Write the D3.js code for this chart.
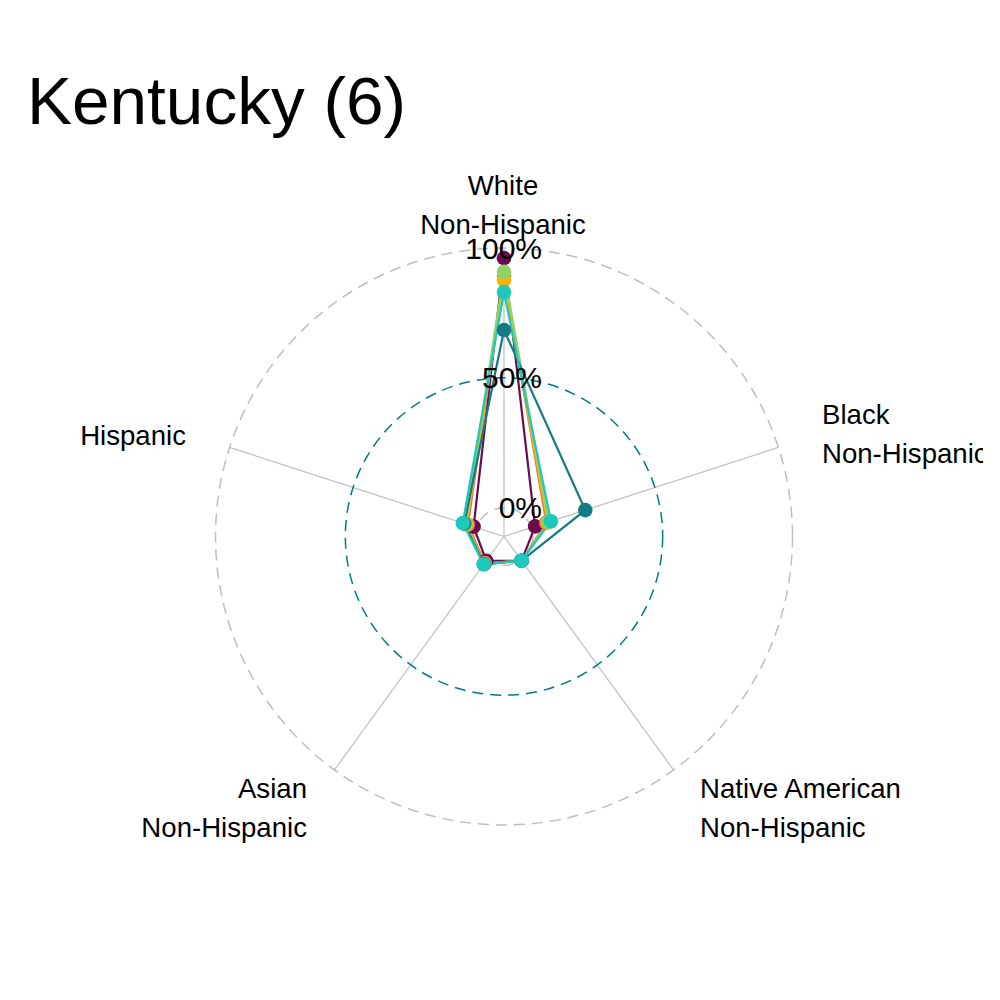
<!DOCTYPE html>
<html>
<head>
<meta charset="utf-8">
<script src="https://cdn.jsdelivr.net/npm/d3@7"></script>
<style>
  html, body { margin: 0; padding: 0; background: #fff; }
  svg { display: block; overflow: hidden; }
  text { font-family: "Liberation Sans", Arial, sans-serif; }
</style>
</head>
<body>
<svg id="chart" width="983" height="1000"></svg>
<script>
// ---- data ----
const title = "Kentucky (6)";
const axes = ["White\nNon-Hispanic", "Black\nNon-Hispanic", "Native American\nNon-Hispanic", "Asian\nNon-Hispanic", "Hispanic"];
const gridValues = [0, 0.5, 1];
const gridLabels = ["0%", "50%", "100%"];
const seriesNames = ["Group 1", "Group 2", "Group 3", "Group 4", "Group 5", "Group 6"];
const seriesColors = ["#6B0A4C", "#EE6A5A", "#F6B400", "#8ED36A", "#147A84", "#1FC8BD"];
const group1 = [0.961, 0.015, 0.004, 0.005, 0.012];
const group2 = [0.890, 0.060, 0.004, 0.015, 0.035];
const group3 = [0.877, 0.065, 0.004, 0.018, 0.040];
const group4 = [0.908, 0.070, 0.004, 0.020, 0.045];
const group5 = [0.684, 0.218, 0.004, 0.020, 0.050];
const group6 = [0.830, 0.079, 0.004, 0.022, 0.056];
const seriesValues = [group1, group2, group3, group4, group5, group6];

// ---- layout ----
const cx = 504, cy = 536.5;
const outerR = 288.5;
const svg = d3.select("#chart");
const g = svg.append("g").attr("transform", `translate(${cx},${cy})`);

const r = d3.scaleLinear().domain([-1/9, 1]).range([0, outerR]);
const angle = d3.scaleLinear().domain([0, axes.length]).range([0, 2 * Math.PI]);
const px = (i, v) => Math.sin(angle(i)) * r(v);
const py = (i, v) => -Math.cos(angle(i)) * r(v);

// axis lines
g.selectAll("line.axis").data(axes).enter().append("line")
  .attr("x1", 0).attr("y1", 0)
  .attr("x2", (d, i) => px(i, 1)).attr("y2", (d, i) => py(i, 1))
  .attr("stroke", "#BEBEBE").attr("stroke-width", 1.2);

// grid circles
g.selectAll("circle.grid").data(gridValues).enter().append("circle")
  .attr("r", d => r(d))
  .attr("fill", "none")
  .attr("stroke", d => d === 0.5 ? "#007A87" : "#BEBEBE")
  .attr("stroke-width", 1.5)
  .attr("stroke-dasharray", "11,7");

// series polygons
const line = d3.line()
  .x(d => px(d.i, d.v)).y(d => py(d.i, d.v))
  .curve(d3.curveLinearClosed);

seriesValues.forEach((vals, s) => {
  const pts = vals.map((v, i) => ({ i, v }));
  g.append("path").datum(pts)
    .attr("d", line)
    .attr("fill", "none")
    .attr("stroke", seriesColors[s])
    .attr("stroke-width", 2.2);
});
seriesValues.forEach((vals, s) => {
  const pts = vals.map((v, i) => ({ i, v }));
  g.selectAll(null).data(pts).enter().append("circle")
    .attr("cx", d => px(d.i, d.v)).attr("cy", d => py(d.i, d.v))
    .attr("r", 7.3)
    .attr("fill", seriesColors[s]);
});

// grid labels
g.selectAll("text.gl").data(gridValues).enter().append("text")
  .attr("x", 38)
  .attr("y", d => -r(d))
  .attr("dy", "0.35em")
  .attr("text-anchor", "end")
  .attr("font-size", 30)
  .attr("fill", "#000")
  .text((d, i) => gridLabels[i]);

// axis labels
const labelPos = [
  { x: 503, y: 185, anchor: "middle" },
  { x: 822, y: 414, anchor: "start" },
  { x: 700, y: 788, anchor: "start" },
  { x: 307, y: 788, anchor: "end" },
  { x: 186, y: 435, anchor: "end" }
];
axes.forEach((lab, i) => {
  const t = svg.append("text")
    .attr("text-anchor", labelPos[i].anchor)
    .attr("font-size", 27.6)
    .attr("fill", "#000");
  lab.split("\n").forEach((ln, k) => {
    t.append("tspan")
      .attr("x", labelPos[i].x)
      .attr("y", labelPos[i].y + k * 39)
      .attr("dy", "0.35em")
      .text(ln);
  });
});

// title
svg.append("text")
  .attr("x", 27).attr("y", 124)
  .attr("font-size", 67.5)
  .attr("fill", "#000")
  .text(title);
</script>
</body>
</html>
